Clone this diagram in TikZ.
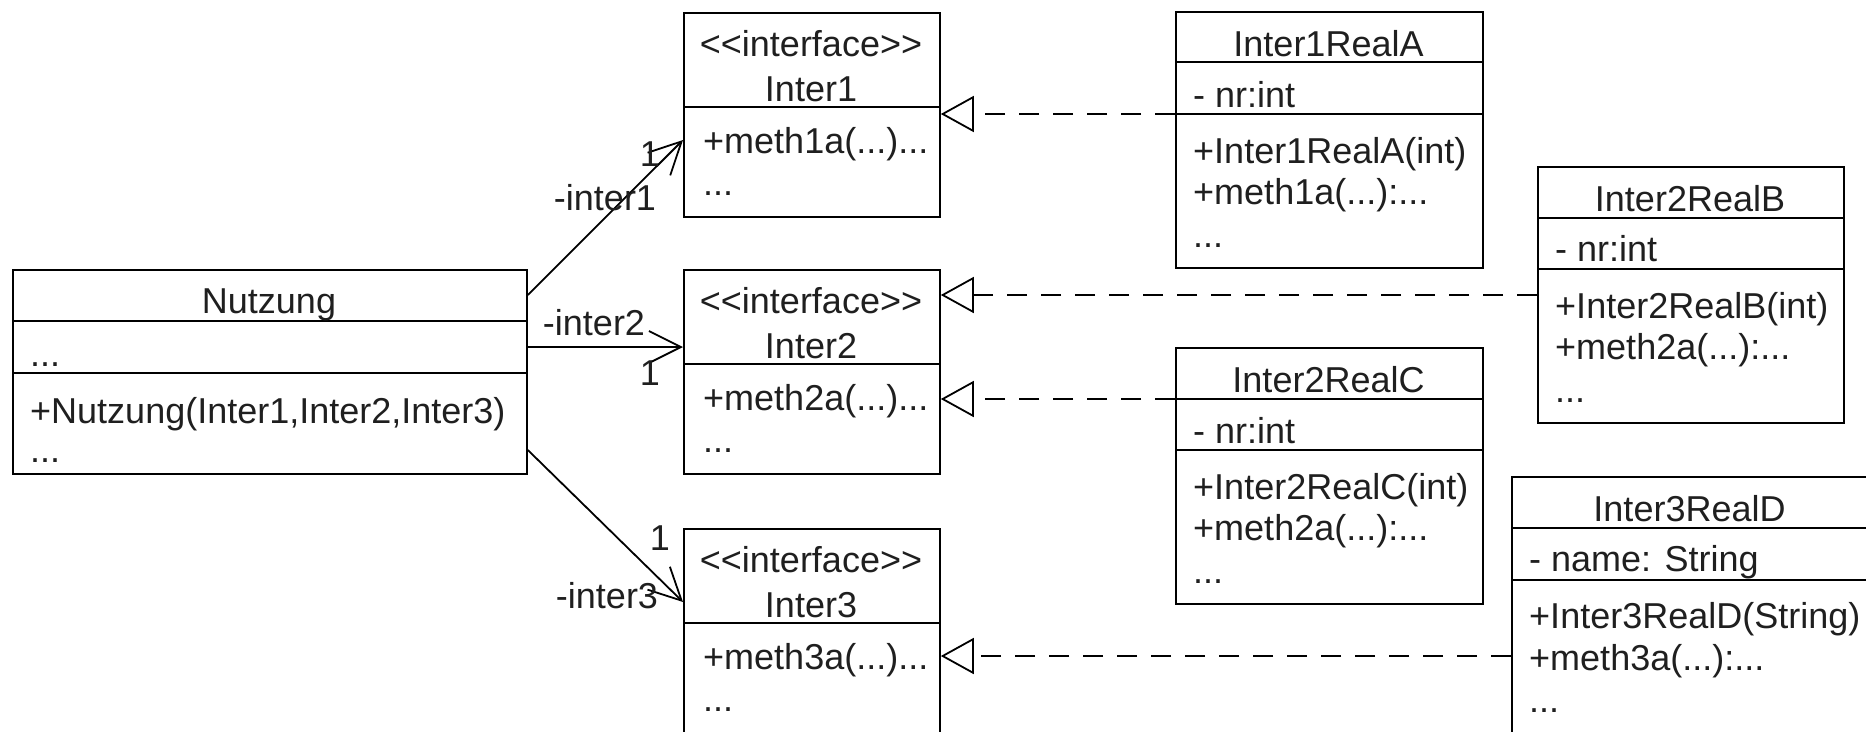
\documentclass[tikz,border=0pt]{standalone}
\usepackage{fontspec}
\setmainfont{Liberation Sans}[Ligatures=TeXOff]
\usetikzlibrary{arrows.meta}
\begin{document}
\begin{tikzpicture}[x=1pt,y=-1pt,
  box/.style={draw, line width=1.8pt, inner sep=0pt, anchor=north west},
  divl/.style={line width=1.8pt},
  txt/.style={anchor=base west, inner sep=0pt, text=black!88, font=\fontsize{36}{42}\selectfont},
  ttl/.style={anchor=base, inner sep=0pt, text=black!88, font=\fontsize{36}{42}\selectfont},
  lbl/.style={anchor=base, inner sep=0pt, text=black!88, font=\fontsize{36}{42}\selectfont},
  assoc/.style={line width=1.8pt, -{Straight Barb[length=32pt,width=32pt]}},
  realize/.style={line width=1.8pt, dash pattern=on 20pt off 14pt, -{Triangle[open,length=33pt,width=36pt]}}]
\useasboundingbox (0,0) rectangle (1866,731);

% ---------- Nutzung ----------
\node[box, minimum width=514pt, minimum height=204pt] (nutz) at (12,269) {};
\draw[divl] (nutz.west |- 0,321) -- (nutz.east |- 0,321);
\draw[divl] (nutz.west |- 0,373) -- (nutz.east |- 0,373);
\node[ttl] (nutzT) at (269,313) {Nutzung};
\node[txt] (nutzA) at (30,366) {...};
\node[txt] (nutzM) at (30,423) {+Nutzung(Inter1,Inter2,Inter3)};
\node[txt] (nutzD) at (30,462) {...};

% ---------- Inter1 ----------
\node[box, minimum width=256pt, minimum height=204pt] (inter1) at (683,12) {};
\draw[divl] (inter1.west |- 0,107) -- (inter1.east |- 0,107);
\node[ttl] (i1s) at (811,56) {<<interface>>};
\node[ttl] (i1t) at (811,101) {Inter1};
\node[txt] (i1m) at (703,153) {+meth1a(...)...};
\node[txt] (i1d) at (703,195) {...};

% ---------- Inter2 ----------
\node[box, minimum width=256pt, minimum height=204pt] (inter2) at (683,269) {};
\draw[divl] (inter2.west |- 0,364) -- (inter2.east |- 0,364);
\node[ttl] (i2s) at (811,313) {<<interface>>};
\node[ttl] (i2t) at (811,358) {Inter2};
\node[txt] (i2m) at (703,410) {+meth2a(...)...};
\node[txt] (i2d) at (703,452) {...};

% ---------- Inter3 ----------
\node[box, minimum width=256pt, minimum height=204pt] (inter3) at (683,528) {};
\draw[divl] (inter3.west |- 0,623) -- (inter3.east |- 0,623);
\node[ttl] (i3s) at (811,572) {<<interface>>};
\node[ttl] (i3t) at (811,617) {Inter3};
\node[txt] (i3m) at (703,669) {+meth3a(...)...};
\node[txt] (i3d) at (703,711) {...};

% ---------- Inter1RealA ----------
\node[box, minimum width=307pt, minimum height=256pt] (realA) at (1175,11) {};
\draw[divl] (realA.west |- 0,62) -- (realA.east |- 0,62);
\draw[divl] (realA.west |- 0,114) -- (realA.east |- 0,114);
\node[ttl] (aT) at (1328.5,56) {Inter1RealA};
\node[txt] (aA) at (1193,107) {- nr:int};
\node[txt] (aM1) at (1193,163) {+Inter1RealA(int)};
\node[txt] (aM2) at (1193,204) {+meth1a(...):...};
\node[txt] (aD) at (1193,247) {...};

% ---------- Inter2RealB ----------
\node[box, minimum width=306pt, minimum height=256pt] (realB) at (1537,166) {};
\draw[divl] (realB.west |- 0,218) -- (realB.east |- 0,218);
\draw[divl] (realB.west |- 0,269) -- (realB.east |- 0,269);
\node[ttl] (bT) at (1690,211) {Inter2RealB};
\node[txt] (bA) at (1555,261) {- nr:int};
\node[txt] (bM1) at (1555,318) {+Inter2RealB(int)};
\node[txt] (bM2) at (1555,359) {+meth2a(...):...};
\node[txt] (bD) at (1555,402) {...};

% ---------- Inter2RealC ----------
\node[box, minimum width=307pt, minimum height=256pt] (realC) at (1175,347) {};
\draw[divl] (realC.west |- 0,399) -- (realC.east |- 0,399);
\draw[divl] (realC.west |- 0,450) -- (realC.east |- 0,450);
\node[ttl] (cT) at (1328.5,392) {Inter2RealC};
\node[txt] (cA) at (1193,443) {- nr:int};
\node[txt] (cM1) at (1193,499) {+Inter2RealC(int)};
\node[txt] (cM2) at (1193,540) {+meth2a(...):...};
\node[txt] (cD) at (1193,583) {...};

% ---------- Inter3RealD ----------
\node[box, minimum width=357pt, minimum height=256pt] (realD) at (1511,476) {};
\draw[divl] (realD.west |- 0,528) -- (realD.east |- 0,528);
\draw[divl] (realD.west |- 0,580) -- (realD.east |- 0,580);
\node[ttl] (dT) at (1689.5,521) {Inter3RealD};
\node[txt] (dA) at (1529,571) {- name: String};
\node[txt] (dM1) at (1529,628) {+Inter3RealD(String)};
\node[txt] (dM2) at (1529,670) {+meth3a(...):...};
\node[txt] (dD) at (1529,712) {...};

% ---------- associations ----------
\draw[assoc] (nutz.east |- 0,295) -- (inter1.west |- 0,140);
\draw[assoc] (nutz.east |- 0,347) -- (inter2.west |- 0,347);
\draw[assoc] (nutz.east |- 0,450) -- (inter3.west |- 0,602);
\node[lbl] (r1) at (605,210) {-inter1};
\node[lbl] (m1) at (650,166) {1};
\node[lbl] (r2) at (594,335) {-inter2};
\node[lbl] (m2) at (650,385) {1};
\node[lbl] (r3) at (607,608) {-inter3};
\node[lbl] (m3) at (660,550) {1};

% ---------- realizations ----------
\draw[realize] (realA.west |- 0,114) -- (inter1.east |- 0,114);
\draw[realize] (realB.west |- 0,295) -- (inter2.east |- 0,295);
\draw[realize] (realC.west |- 0,399) -- (inter2.east |- 0,399);
\draw[realize] (realD.west |- 0,656) -- (inter3.east |- 0,656);
\end{tikzpicture}
\end{document}
